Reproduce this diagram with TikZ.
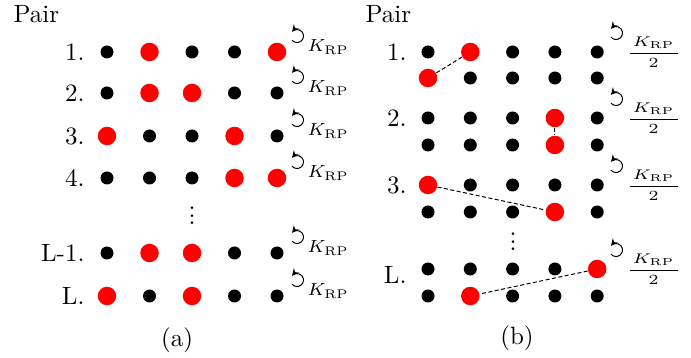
\documentclass[tikz,border=0pt]{standalone}
\usepackage{amsmath}
\usetikzlibrary{arrows.meta}
\tikzset{
  bdot/.style    = {circle, fill=black, inner sep=0pt, minimum size=5.2pt},
  rdot/.style    = {circle, fill=red, inner sep=0pt, minimum size=7.4pt},
  rowlab/.style  = {anchor=east, inner sep=0pt},
  pairlab/.style = {anchor=base west, inner sep=0pt},
  klab/.style    = {anchor=base west, inner sep=0pt, font=\scriptsize},
  fraclab/.style = {anchor=west, inner sep=0pt, font=\scriptsize},
  rpline/.style  = {thin, dash pattern=on 1.6pt off 1pt},
  rotarr/.style  = {thin, -{Stealth[length=2.8pt,width=2.8pt]}},
}
\newcommand{\rotmark}[2]{\draw[rotarr] (#1,#2) ++(220:2.6pt) arc[start angle=220, end angle=500, radius=2.6pt];}
\newcommand{\tightvdots}{\vbox{\baselineskip3pt\lineskiplimit0pt\hbox{.}\hbox{.}\hbox{.}}}
\newcommand{\halfrate}{\scalebox{1}[0.8]{$\dfrac{\,K_{\mathrm{RP}}\,}{2}$}}

\begin{document}
\begin{tikzpicture}[x=0.4pt, y=-0.4pt]
\useasboundingbox (0,0) rectangle (691,358);

% (a) single pairs
\node[pairlab] (apair) at (13,23) {Pair};
\node[rowlab] (alab1) at (85,52) {1.};
\node[rowlab] (alab2) at (85,93) {2.};
\node[rowlab] (alab3) at (85,136) {3.};
\node[rowlab] (alab4) at (85,178) {4.};
\node[rowlab] (alabL1) at (85,253) {L-1.};
\node[rowlab] (alabL) at (85,296) {L.};
\foreach \s [count=\c] in {bdot,rdot,bdot,bdot,rdot}
  \node[\s] (a1-\c) at ({64.5+42.5*\c},52) {};
\foreach \s [count=\c] in {bdot,rdot,rdot,bdot,bdot}
  \node[\s] (a2-\c) at ({64.5+42.5*\c},93) {};
\foreach \s [count=\c] in {rdot,bdot,bdot,rdot,bdot}
  \node[\s] (a3-\c) at ({64.5+42.5*\c},136) {};
\foreach \s [count=\c] in {bdot,bdot,bdot,rdot,rdot}
  \node[\s] (a4-\c) at ({64.5+42.5*\c},178) {};
\node[inner sep=0pt] (adots) at (192,216) {\tightvdots};
\foreach \s [count=\c] in {bdot,rdot,rdot,bdot,bdot}
  \node[\s] (aL1-\c) at ({64.5+42.5*\c},253) {};
\foreach \s [count=\c] in {rdot,bdot,rdot,bdot,bdot}
  \node[\s] (aL-\c) at ({64.5+42.5*\c},296) {};
\foreach \y in {52,93,136,178,253,296} {
  \rotmark{297}{\y-16}
  \node[klab] at (307,\y) {$K_{\mathrm{RP}}$};
}
\node (acap) at (177,340) {(a)};

% (b) pairs on two rows
\node[pairlab] (bpair) at (365,23) {Pair};
\node[rowlab] (blab1) at (407,52) {1.};
\node[rowlab] (blab2) at (407,118) {2.};
\node[rowlab] (blab3) at (407,185) {3.};
\node[rowlab] (blabL) at (407,275) {L.};
\foreach \s [count=\c] in {bdot,rdot,bdot,bdot,bdot}
  \node[\s] (b1t-\c) at ({385.7+42.3*\c},52) {};
\foreach \s [count=\c] in {rdot,bdot,bdot,bdot,bdot}
  \node[\s] (b1b-\c) at ({385.7+42.3*\c},78) {};
\foreach \s [count=\c] in {bdot,bdot,bdot,rdot,bdot}
  \node[\s] (b2t-\c) at ({385.7+42.3*\c},118) {};
\foreach \s [count=\c] in {bdot,bdot,bdot,rdot,bdot}
  \node[\s] (b2b-\c) at ({385.7+42.3*\c},145) {};
\foreach \s [count=\c] in {rdot,bdot,bdot,bdot,bdot}
  \node[\s] (b3t-\c) at ({385.7+42.3*\c},185) {};
\foreach \s [count=\c] in {bdot,bdot,bdot,rdot,bdot}
  \node[\s] (b3b-\c) at ({385.7+42.3*\c},212) {};
\node[inner sep=0pt] (bdots) at (513,242) {\tightvdots};
\foreach \s [count=\c] in {bdot,bdot,bdot,bdot,rdot}
  \node[\s] (bLt-\c) at ({385.7+42.3*\c},269) {};
\foreach \s [count=\c] in {bdot,rdot,bdot,bdot,bdot}
  \node[\s] (bLb-\c) at ({385.7+42.3*\c},296) {};
\draw[rpline] (b1t-2) -- (b1b-1);
\draw[rpline] (b2t-4) -- (b2b-4);
\draw[rpline] (b3t-1) -- (b3b-4);
\draw[rpline] (bLt-5) -- (bLb-2);
\foreach \y in {52,118,185,269} {
  \rotmark{616}{\y-19}
  \node[fraclab] at (626,\y) {\halfrate};
}
\node (bcap) at (517,338) {(b)};
\end{tikzpicture}
\end{document}
